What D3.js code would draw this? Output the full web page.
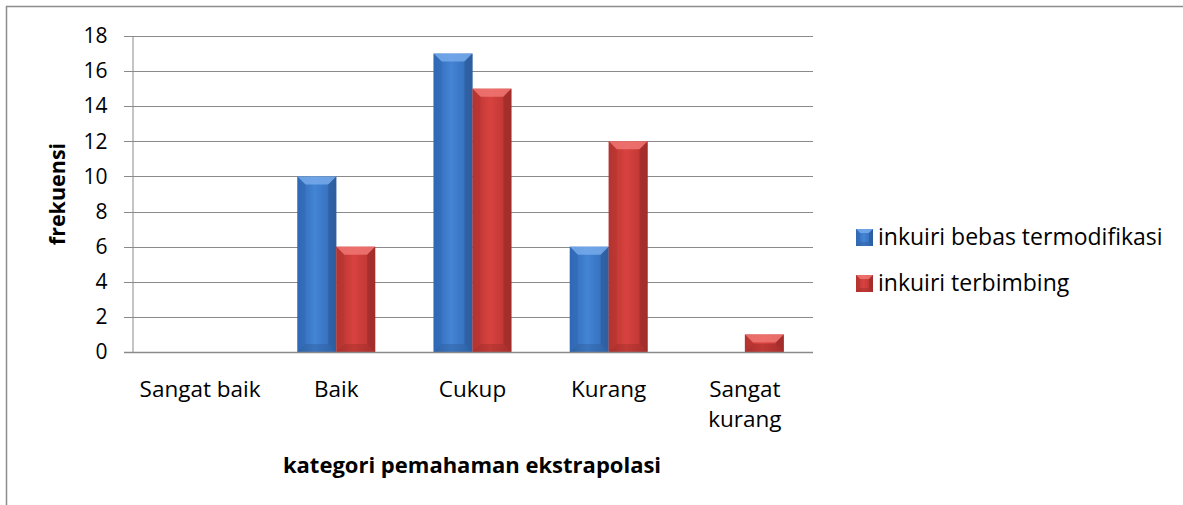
<!DOCTYPE html>
<html>
<head>
<meta charset="utf-8">
<script src="https://cdn.jsdelivr.net/npm/d3@7"></script>
<style>
  body { margin: 0; background: #fff; }
  svg { font-family: "Open Sans", Lato, sans-serif; }
</style>
</head>
<body>
<div id="chart"></div>
<script>
// data
var categories = ["Sangat baik", "Baik", "Cukup", "Kurang", "Sangat kurang"]
var seriesNames = ["inkuiri bebas termodifikasi", "inkuiri terbimbing"]
var bebasValues = [0, 10, 17, 6, 0]
var terbimbingValues = [0, 6, 15, 12, 1]
var yTicks = [0, 2, 4, 6, 8, 10, 12, 14, 16, 18]

var W = 1183, H = 505
var plotLeft = 132, plotRight = 813, plotTop = 36, plotBottom = 352

var palette = [
    { main: "#4384d4", edge: "#3068b3", light: "#7aaeee", dark: "#2a5690" },
    { main: "#d8423f", edge: "#b43330", light: "#f27a77", dark: "#922826" }
]

var svg = d3.select("#chart").append("svg")
    .attr("width", W).attr("height", H)

// outer frame (right and bottom edges run off the canvas)
svg.append("rect")
    .attr("x", 6.5).attr("y", 6.5)
    .attr("width", W + 10).attr("height", H + 10)
    .attr("fill", "none").attr("stroke", "#8c8c8c").attr("stroke-width", 1.5)

var x = d3.scaleBand().domain(categories).range([plotLeft, plotRight])
var y = d3.scaleLinear().domain([0, 18]).range([plotBottom, plotTop])

// gridlines
svg.append("g").selectAll("line").data(yTicks).join("line")
    .attr("x1", plotLeft - 8).attr("x2", plotRight)
    .attr("y1", d => Math.round(y(d)) + 0.5).attr("y2", d => Math.round(y(d)) + 0.5)
    .attr("stroke", "#8a8a8a").attr("stroke-width", 1)

// y axis
var yAxis = svg.append("g")
    .attr("transform", "translate(" + (plotLeft + 0.5) + ",0)")
    .call(d3.axisLeft(y).tickValues(yTicks).tickSize(0).tickPadding(25))
yAxis.select(".domain").attr("stroke", "#8a8a8a")
yAxis.selectAll("text").attr("font-size", 21).attr("fill", "#000")
    .attr("font-family", "'Open Sans', Lato, sans-serif")

// bars with a bevel
var inner = d3.scaleBand().domain([0, 1]).range([0, x.bandwidth()]).paddingOuter(0.75).paddingInner(0)
var seriesData = [bebasValues, terbimbingValues]

function bevelBar(g, bx, by, bw, bh, c, bevel) {
    if (bh <= 0) return
    var b = Math.min(bevel, bh / 2, bw / 2)
    var id = "grad" + Math.random().toString(36).slice(2)
    var grad = svg.append("defs").append("linearGradient").attr("id", id)
        .attr("x1", 0).attr("x2", 1).attr("y1", 0).attr("y2", 0)
    grad.append("stop").attr("offset", 0).attr("stop-color", c.edge)
    grad.append("stop").attr("offset", 0.45).attr("stop-color", c.main)
    grad.append("stop").attr("offset", 1).attr("stop-color", c.edge)
    g.append("rect").attr("x", bx).attr("y", by).attr("width", bw).attr("height", bh)
        .attr("fill", "url(#" + id + ")")
    var pts = function (a) { return a.map(p => p.join(",")).join(" ") }
    g.append("polygon").attr("fill", c.light).attr("opacity", 0.8)
        .attr("points", pts([[bx, by], [bx + bw, by], [bx + bw - b, by + b], [bx + b, by + b]]))
    g.append("polygon").attr("fill", c.dark).attr("opacity", 0.35)
        .attr("points", pts([[bx, by + bh], [bx + bw, by + bh], [bx + bw - b, by + bh - b], [bx + b, by + bh - b]]))
    g.append("polygon").attr("fill", c.edge).attr("opacity", 0.5)
        .attr("points", pts([[bx, by], [bx + b, by + b], [bx + b, by + bh - b], [bx, by + bh]]))
    g.append("polygon").attr("fill", c.dark).attr("opacity", 0.55)
        .attr("points", pts([[bx + bw, by], [bx + bw - b, by + b], [bx + bw - b, by + bh - b], [bx + bw, by + bh]]))
}

var bars = svg.append("g")
seriesData.forEach(function (vals, s) {
    vals.forEach(function (v, i) {
        var bx = x(categories[i]) + inner(s)
        bevelBar(bars, bx, y(v), inner.bandwidth(), y(0) - y(v), palette[s], 8)
    })
})

// x axis line
svg.append("line")
    .attr("x1", plotLeft - 8).attr("x2", plotRight)
    .attr("y1", Math.round(y(0)) + 0.5).attr("y2", Math.round(y(0)) + 0.5)
    .attr("stroke", "#8a8a8a").attr("stroke-width", 1.5)

// category labels
svg.append("g").selectAll("text").data(categories).join("text")
    .attr("x", d => x(d) + x.bandwidth() / 2)
    .attr("y", 397)
    .attr("text-anchor", "middle").attr("font-size", 22.5)
    .each(function (d) {
        var parts = d === "Sangat kurang" ? ["Sangat", "kurang"] : [d]
        var t = d3.select(this)
        parts.forEach(function (p, k) {
            t.append("tspan").attr("x", x(d) + x.bandwidth() / 2).attr("dy", k ? 30 : 0).text(p)
        })
    })

// axis titles
svg.append("text")
    .attr("x", 472).attr("y", 473)
    .attr("text-anchor", "middle").attr("font-size", 22).attr("font-weight", "bold")
    .text("kategori pemahaman ekstrapolasi")
svg.append("text")
    .attr("transform", "translate(65,194) rotate(-90)")
    .attr("text-anchor", "middle").attr("font-size", 21.5).attr("font-weight", "bold")
    .text("frekuensi")

// legend
var legend = svg.append("g").attr("transform", "translate(856,229)")
seriesNames.forEach(function (n, s) {
    var g = legend.append("g").attr("transform", "translate(0," + (s * 46) + ")")
    bevelBar(g, 0, 0, 17, 17, palette[s], 4)
    g.append("text").attr("x", 22).attr("y", 15.5).attr("font-size", 23).text(n)
})
</script>
</body>
</html>
